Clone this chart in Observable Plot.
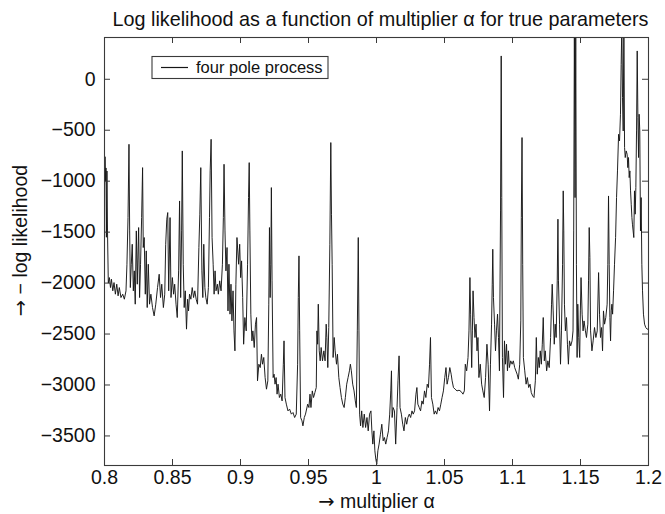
<!DOCTYPE html>
<html><head><meta charset="utf-8">
<script src="https://cdn.jsdelivr.net/npm/d3@7"></script>
<script src="https://cdn.jsdelivr.net/npm/@observablehq/plot@0.6"></script>
<style>
html,body{margin:0;padding:0;background:#fff;}
#chart{width:665px;height:514px;}
</style></head>
<body><div id="chart"></div>
<script>
const title = "Log likelihood as a function of multiplier α for true parameters";
const xLabel = "→ multiplier α";
const yLabel = "→ − log likelihood";
const seriesName = "four pole process";
const xTicks = [0.8,0.85,0.9,0.95,1,1.05,1.1,1.15,1.2];
const xTickLabels = ["0.8","0.85","0.9","0.95","1","1.05","1.1","1.15","1.2"];
const yTicks = [0,-500,-1000,-1500,-2000,-2500,-3000,-3500];
const yTickLabels = ["0","−500","−1000","−1500","−2000","−2500","−3000","−3500"];

const alpha = [
0.8000,0.8004,0.8008,0.8011,0.8014,0.8018,0.8022,0.8028,
0.8036,0.8044,0.8051,0.8061,0.8070,0.8080,0.8090,0.8100,0.8109,0.8121,0.8134,0.8146,0.8158,0.8165,0.8173,0.8180,0.8185,0.8190,0.8197,0.8204,0.8212,0.8219,0.8226,0.8234,0.8241,0.8251,0.8258,0.8265,0.8273,0.8280,0.8285,0.8292,0.8300,0.8307,0.8314,0.8322,0.8331,0.8341,0.8353,0.8365,0.8377,0.8390,0.8402,0.8412,0.8421,0.8433,0.8443,0.8450,0.8458,
0.8465,0.8472,0.8482,0.8489,0.8499,0.8508,0.8516,0.8526,0.8535,0.8545,0.8552,0.8560,0.8567,0.8572,0.8579,0.8586,0.8594,0.8603,0.8611,0.8618,0.8625,0.8635,0.8645,0.8655,0.8664,0.8674,0.8684,0.8694,0.8701,0.8708,0.8716,0.8723,0.8730,0.8738,0.8745,0.8755,0.8764,0.8772,0.8777,0.8784,0.8791,0.8799,0.8806,0.8813,0.8820,0.8830,0.8837,0.8847,0.8857,0.8867,0.8874,0.8879,0.8886,0.8893,0.8901,0.8908,0.8915,0.8923,0.8930,0.8937,0.8945,0.8952,0.8959,0.8966,0.8974,
0.8986,0.8994,0.9001,0.9008,0.9016,0.9023,0.9032,0.9042,0.9052,0.9059,0.9064,0.9069,0.9076,0.9084,0.9091,0.9101,0.9110,0.9118,0.9125,0.9135,0.9145,0.9154,0.9162,0.9171,0.9181,0.9191,0.9201,0.9208,0.9213,0.9218,0.9223,0.9227,0.9232,0.9240,0.9247,0.9254,0.9262,0.9269,0.9276,0.9286,0.9296,0.9306,0.9315,0.9320,0.9327,0.9337,0.9349,0.9361,0.9374,0.9386,0.9398,0.9410,0.9420,0.9425,0.9430,0.9435,0.9442,0.9452,0.9459,0.9469,0.9478,
0.9494,0.9503,0.9511,0.9518,0.9528,0.9537,0.9547,0.9557,0.9562,0.9567,0.9572,0.9579,0.9586,0.9593,0.9603,0.9613,0.9622,0.9630,0.9635,0.9642,0.9649,0.9657,0.9664,0.9669,0.9674,0.9681,0.9689,0.9696,0.9706,0.9713,0.9723,0.9732,0.9742,0.9752,0.9762,0.9771,0.9781,0.9791,0.9801,0.9808,0.9815,0.9825,0.9835,0.9844,0.9852,0.9859,0.9866,0.9871,0.9876,0.9883,0.9891,0.9900,0.9910,0.9920,0.9930,0.9939,0.9949,0.9959,0.9966,0.9973,0.9981,0.9988,0.9995,
1.0002,1.0010,1.0019,1.0029,1.0039,1.0049,1.0058,1.0068,1.0078,1.0088,1.0097,1.0105,1.0110,1.0115,1.0122,1.0132,1.0141,1.0151,1.0158,1.0166,1.0173,1.0183,1.0193,1.0202,1.0212,1.0222,1.0231,1.0241,1.0251,1.0261,1.0270,1.0280,1.0290,1.0297,1.0304,1.0314,1.0324,1.0334,1.0343,1.0353,1.0363,1.0373,1.0382,1.0390,1.0397,1.0404,1.0414,1.0424,1.0433,1.0443,1.0453,1.0463,1.0473,1.0482,1.0492,1.0502,1.0511,
1.0519,1.0529,1.0539,1.0549,1.0556,1.0566,1.0578,1.0592,1.0607,1.0622,1.0636,1.0646,1.0653,1.0663,1.0673,1.0680,1.0687,1.0692,1.0700,1.0705,1.0710,1.0717,1.0724,1.0732,1.0739,1.0746,1.0753,1.0763,1.0773,1.0782,1.0792,1.0802,1.0812,1.0821,1.0831,1.0838,1.0846,1.0851,1.0855,1.0860,1.0868,1.0875,1.0882,1.0890,1.0897,1.0904,1.0912,1.0917,1.0921,1.0926,1.0934,1.0941,1.0948,1.0956,1.0963,1.0970,1.0977,1.0987,1.0997,1.1006,1.1016,
1.1034,1.1043,1.1053,1.1061,1.1065,1.1070,1.1075,1.1080,1.1090,1.1100,1.1109,1.1119,1.1129,1.1138,1.1148,1.1158,1.1168,1.1175,1.1182,1.1190,1.1197,1.1204,1.1212,1.1219,1.1226,1.1234,1.1241,1.1251,1.1260,1.1270,1.1280,1.1287,1.1292,1.1299,1.1307,1.1314,1.1321,1.1329,1.1334,1.1338,1.1346,1.1353,1.1360,1.1368,1.1373,1.1377,1.1382,1.1389,1.1397,1.1404,1.1411,1.1419,1.1428,1.1438,1.1445,1.1450,1.1455,1.1460,1.1465,1.1470,1.1475,1.1480,1.1487,1.1494,1.1499,1.1504,1.1512,1.1519,1.1526,1.1536,
1.1544,1.1554,1.1559,1.1564,1.1569,1.1574,1.1584,1.1593,1.1603,1.1613,1.1623,1.1633,1.1640,1.1647,1.1655,1.1662,1.1669,1.1677,1.1686,1.1696,1.1701,1.1706,1.1711,1.1716,1.1721,1.1726,1.1731,1.1736,1.1743,1.1750,1.1758,1.1765,1.1772,1.1780,1.1787,1.1794,1.1799,1.1804,1.1809,1.1814,1.1819,1.1824,1.1829,1.1836,1.1843,1.1848,1.1853,1.1858,1.1863,1.1868,1.1873,1.1878,1.1882,1.1887,1.1892,1.1897,1.1902,1.1907,1.1912,1.1917,1.1922,1.1927,1.1931,1.1936,1.1941,1.1946,1.1951,1.1956,1.1963,1.1971,1.1980,1.1990,1.2000
];
const negLogLik = [
-1050,-760,-1000,-870,-1550,-900,-1480,-2000,
-1946,-2044,-1962,-2076,-1995,-2109,-2011,-2125,-2044,-2142,-2109,-2158,-2076,-1815,-1357,-638,-1488,-2044,-1815,-1619,-2076,-1880,-2207,-1488,-2011,-1455,-2142,-1815,-1357,-867,-1651,-1553,-2109,-1684,-2240,-1815,-2207,-2109,-2240,-2322,-2207,-2044,-1913,-2142,-2011,-2240,-2109,-1619,-1373,
-1308,-2076,-1357,-2142,-1946,-2109,-2011,-2207,-2338,-1880,-1194,-2142,-1488,-703,-1815,-2240,-2076,-2452,-2158,-2273,-2109,-2158,-2044,-2142,-2076,-2158,-2207,-1651,-1324,-867,-1880,-2142,-1619,-2044,-2142,-2207,-2044,-1357,-899,-589,-1553,-1815,-2109,-1880,-2076,-2011,-2109,-1978,-2076,-1815,-1357,-834,-1488,-1880,-1651,-2273,-1815,-2305,-2011,-2371,-2076,-2469,-2665,-2011,-1553,
-1815,-1619,-1946,-1782,-2142,-2600,-2338,-2469,-1815,-1161,-818,-1488,-2305,-2567,-2469,-2632,-2403,-2338,-2959,-2796,-2829,-2698,-2796,-2730,-2927,-3041,-2959,-2207,-1455,-2142,-1815,-1063,-1978,-2927,-2894,-2992,-2927,-3090,-2992,-3123,-3090,-3156,-2796,-2567,-3123,-3188,-3254,-3237,-3286,-3270,-3319,-3286,-2796,-2142,-1733,-2469,-3319,-3352,-3401,-3319,-3286,
-3188,-3221,-3090,-3221,-3058,-3123,-3074,-3025,-2469,-2600,-2207,-2665,-2763,-2632,-2763,-2665,-2763,-2403,-2534,-2829,-2436,-1619,-621,-1324,-1815,-2730,-2534,-2665,-2796,-2698,-2927,-3025,-3123,-3188,-3221,-3123,-2992,-2927,-2861,-2796,-2861,-2992,-3058,-3156,-3221,-2469,-1553,-2469,-3286,-3401,-3254,-3417,-3286,-3417,-3319,-3450,-3286,-3254,-3450,-3580,-3450,-3646,-3728,
-3777,-3646,-3580,-3483,-3385,-3548,-3515,-3580,-3515,-3450,-3286,-3058,-2861,-3319,-3221,-3254,-3580,-3221,-2959,-2714,-3221,-3286,-3385,-3450,-3319,-3385,-3319,-3286,-3319,-3254,-3286,-3254,-3090,-3025,-3188,-3221,-3254,-3156,-3188,-3058,-3123,-2992,-3025,-2796,-2534,-3123,-3188,-3286,-3254,-3286,-3221,-3254,-3188,-3123,-3058,-2927,-2829,
-2992,-2927,-2829,-2894,-2959,-3025,-3041,-3058,-3051,-3064,-3090,-3058,-2796,-2861,-2730,-2469,-1946,-2305,-2829,-2469,-2076,-2338,-2534,-2403,-2665,-2534,-2927,-2796,-2992,-3058,-3123,-2927,-2600,-2796,-3254,-2796,-2403,-2011,-1668,-2142,-2403,-2665,-2469,-2305,-2534,-2861,-1292,229,-1161,-2730,-3123,-2567,-2796,-2600,-2861,-2665,-2829,-2763,-2796,-2763,-2829,
-2894,-2943,-2796,-2371,-1357,-572,-1815,-2730,-2861,-2992,-2927,-3025,-2992,-3074,-3107,-3123,-2959,-2534,-2894,-2730,-2829,-2665,-2796,-2600,-2338,-2763,-2665,-2861,-2763,-2829,-2534,-2207,-2011,-2273,-2600,-2403,-2534,-1978,-1373,-1978,-2403,-2796,-2469,-1815,-1095,-1488,-2207,-2469,-2338,-2600,-2796,-2567,-2616,-2567,-2469,-1488,520,-1161,520,-1815,-2730,-2207,-2534,-2730,-2273,-1946,-2305,-2469,-2371,-2469,
-2534,-2403,-1978,-1455,-1750,-2469,-2665,-2567,-2436,-2534,-2469,-1897,-2305,-2534,-2436,-2665,-2273,-2403,-2338,-2207,-1815,-1145,-1815,-2338,-2567,-2273,-2207,-2305,-2076,-1815,-1553,-1161,-899,-540,-605,-343,147,540,-180,-507,540,-670,-768,-703,-736,-867,-768,-965,-899,-1095,-1226,-1357,-1422,-1488,-1553,-1095,-1324,-1063,-507,278,-376,-768,-343,-507,-1488,-1161,-1815,-2076,-2305,-2403,-2436,-2452,-2452
];

const data = alpha.map((a, i) => ({alpha: a, value: negLogLik[i]}));
const xFmt = d => xTickLabels[xTicks.indexOf(d)];
const yFmt = d => yTickLabels[yTicks.indexOf(d)];

const W = 665, H = 514, mL = 104, mR = 17, mT = 37, mB = 49;
const fw = W - mL - mR, fh = H - mT - mB, tk = 6;
const axisColor = "#3a3a3a";
const tickFont = 19.5;

const chart = Plot.plot({
  width: W, height: H,
  marginLeft: mL, marginRight: mR, marginTop: mT, marginBottom: mB,
  style: {fontFamily: "'Liberation Sans', Arial, Helvetica, sans-serif", fontSize: "19px", background: "#fff", color: "#111"},
  x: {domain: [0.8, 1.2]},
  y: {domain: [-3790, 410]},
  marks: [
    Plot.line(data, {x: "alpha", y: "value", stroke: "#161616", strokeWidth: 0.95, clip: true}),
    Plot.ruleX(xTicks, {stroke: axisColor, insetTop: fh - tk}),
    Plot.ruleX(xTicks, {stroke: axisColor, insetBottom: fh - tk}),
    Plot.ruleY(yTicks, {stroke: axisColor, insetRight: fw - tk}),
    Plot.ruleY(yTicks, {stroke: axisColor, insetLeft: fw - tk}),
    Plot.frame({stroke: axisColor, strokeWidth: 1.1}),
    Plot.axisX({ticks: xTicks, tickFormat: xFmt, tickSize: 0, tickPadding: 5, label: null, fontSize: tickFont}),
    Plot.axisY({ticks: yTicks, tickFormat: yFmt, tickSize: 0, tickPadding: 9, label: null, fontSize: tickFont}),
    Plot.text([xLabel], {text: d => d, frameAnchor: "bottom", lineAnchor: "middle", dy: 36, fontSize: 19.5}),
    Plot.text([yLabel], {text: d => d, frameAnchor: "left", textAnchor: "middle", lineAnchor: "middle", rotate: -90, dx: -84, dy: -11, fontSize: 19.5}),
    Plot.text([title], {text: d => d, frameAnchor: "top", lineAnchor: "middle", dy: -18, dx: 4, fontSize: 19.8})
  ]
});
document.getElementById("chart").appendChild(chart);

const svg = d3.select(chart);
// render the leading arrow of the axis labels with a font that has a long arrow glyph
svg.selectAll("text").each(function() {
  const t = this.textContent;
  if (t === xLabel || t === yLabel) {
    const sel = d3.select(this);
    sel.text(null);
    sel.append("tspan").attr("font-family", "'DejaVu Sans', sans-serif").text(t.slice(0, 1));
    sel.append("tspan").text(t.slice(1));
  }
});

// legend box (top-left inside the axes)
const lg = svg.append("g").attr("class", "legend");
lg.append("rect").attr("x", 152).attr("y", 56.5).attr("width", 176).attr("height", 22)
  .attr("fill", "#fff").attr("stroke", axisColor).attr("stroke-width", 1.1);
lg.append("line").attr("x1", 161).attr("x2", 188).attr("y1", 67.5).attr("y2", 67.5)
  .attr("stroke", "#161616").attr("stroke-width", 1.2);
lg.append("text").attr("x", 196).attr("y", 73).attr("font-size", 16.5)
  .attr("text-anchor", "start").attr("fill", "#111").text(seriesName);
</script>
</body></html>
